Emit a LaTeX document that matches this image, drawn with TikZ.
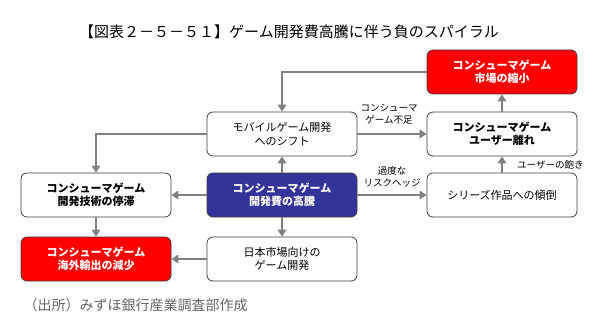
\documentclass[tikz,border=0pt]{standalone}
\usepackage{fontspec}
\setmainfont{Noto Sans CJK JP}
\usetikzlibrary{arrows.meta}
\definecolor{flowline}{gray}{0.5}
\definecolor{boxline}{gray}{0.25}
\definecolor{alertred}{RGB}{255,0,0}
\definecolor{costnavy}{RGB}{51,51,153}
\definecolor{sourcegray}{gray}{0.4}

\tikzset{
  stage/.style={draw=boxline,line width=0.8pt,rounded corners=6pt,fill=white,
    minimum width=150pt,minimum height=44pt,align=center,
    font=\fontsize{11}{13.5}\selectfont},
  stagebold/.style={stage,font=\bfseries\fontsize{11}{13.5}\selectfont},
  alertstage/.style={stagebold,fill=alertred,text=white},
  coststage/.style={stagebold,fill=costnavy,text=white},
  flow/.style={flowline,line width=2.8pt,-{Triangle[length=7pt,width=8.5pt]}},
  note/.style={font=\fontsize{9.5}{12}\selectfont,align=center,inner sep=0pt}
}

\begin{document}
\begin{tikzpicture}[x=1pt,y=1pt]
  \useasboundingbox (0,0) rectangle (600,322);
  \fill[white] (0,0) rectangle (600,322);

  \node[font=\fontsize{15}{18}\selectfont] (title) at (289,290)
    {【図表２－５－５１】ゲーム開発費高騰に伴う負のスパイラル};

  % top row
  \node[alertstage] (market) at (502,250) {コンシューマゲーム\\市場の縮小};
  % second row
  \node[stage] (mobile) at (282,188) {モバイルゲーム開発\\へのシフト};
  \node[stagebold] (users) at (502,188) {コンシューマゲーム\\ユーザー離れ};
  % third row
  \node[stagebold] (tech) at (96,127) {コンシューマゲーム\\開発技術の停滞};
  \node[coststage] (cost) at (282,127) {コンシューマゲーム\\開発費の高騰};
  \node[stage] (series) at (502,127) {シリーズ作品への傾倒};
  % bottom row
  \node[alertstage] (export) at (96,63) {コンシューマゲーム\\海外輸出の減少};
  \node[stage] (domestic) at (282,63) {日本市場向けの\\ゲーム開発};

  \draw[flow] (market.west) -- (market.west -| mobile.north) -- (mobile.north);
  \draw[flow] (users.north) -- (market.south);
  \draw[flow] (series.north) -- (users.south);
  \draw[flow] (mobile.east) -- (users.west);
  \draw[flow] (mobile.west) -- (mobile.west -| tech.north) -- (tech.north);
  \draw[flow] (cost.north) -- (mobile.south);
  \draw[flow] (cost.west) -- (tech.east);
  \draw[flow] (cost.east) -- (series.west);
  \draw[flow] (cost.south) -- (domestic.north);
  \draw[flow] (tech.south) -- (export.north);
  \draw[flow] (domestic.west) -- (export.east);

  \node[note] (shortage) at (389,208) {コンシューマ\\ゲーム不足};
  \node[note] (hedge) at (392,145) {過度な\\リスクヘッジ};
  \node[note,anchor=west] (boredom) at (517,157) {ユーザーの飽き};

  \node[anchor=west,text=sourcegray,font=\fontsize{14}{16}\selectfont]
    (source) at (20,17) {（出所）みずほ銀行産業調査部作成};
\end{tikzpicture}
\end{document}
